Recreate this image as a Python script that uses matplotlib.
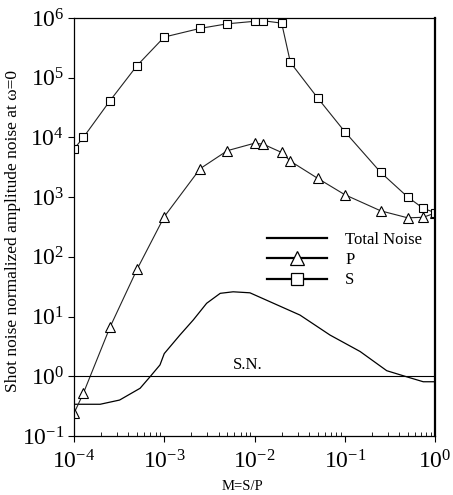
import matplotlib
matplotlib.use('Agg')
import matplotlib.pyplot as plt
from matplotlib.lines import Line2D
from matplotlib.ticker import LogLocator, FixedLocator, NullFormatter

plt.rcParams['font.family'] = ['Liberation Serif', 'DejaVu Serif']
plt.rcParams['mathtext.fontset'] = 'custom'
plt.rcParams['mathtext.rm'] = 'Liberation Serif'
plt.rcParams['mathtext.it'] = 'Liberation Serif:italic'

# S polarisation noise (squares)
m_s = [1e-4, 1.27e-4, 2.5e-4, 5e-4, 1e-3, 2.5e-3, 5e-3, 1e-2, 1.25e-2, 2e-2,
       2.5e-2, 5e-2, 0.1, 0.25, 0.5, 0.74, 1.0]
noise_s = [6.4e3, 1.0e4, 4.1e4, 1.6e5, 4.8e5, 6.7e5, 8.0e5, 8.8e5, 9.0e5, 8.2e5,
           1.8e5, 4.6e4, 1.25e4, 2.6e3, 1.0e3, 650, 550]

# P polarisation noise (triangles)
m_p = [1e-4, 1.27e-4, 2.5e-4, 5e-4, 1e-3, 2.5e-3, 5e-3, 1e-2, 1.25e-2, 2e-2,
       2.5e-2, 5e-2, 0.1, 0.25, 0.5, 0.74, 1.0]
noise_p = [0.24, 0.52, 6.6, 62, 470, 3.0e3, 6.0e3, 8.0e3, 7.7e3, 5.6e3,
           4.0e3, 2.07e3, 1.1e3, 590, 450, 460, 540]

# total noise curve
m_tot = [1e-4, 1.95e-4, 3.2e-4, 5.4e-4, 6.95e-4, 8.97e-4, 1e-3, 1.49e-3, 2.1e-3,
         2.95e-3, 4.17e-3, 5.8e-3, 8.9e-3, 3.19e-2, 6.87e-2, 0.148, 0.292,
         0.486, 0.741, 1.0]
noise_tot = [0.34, 0.34, 0.40, 0.63, 0.98, 1.55, 2.4, 4.9, 8.8, 16.7, 24.5,
             26, 25, 10.6, 4.9, 2.6, 1.24, 0.98, 0.81, 0.81]

shot_noise = 1.0

fig = plt.figure(figsize=(4.53, 4.95), dpi=100)
ax = fig.add_axes([74 / 453, 1 - 436 / 495, (435 - 74) / 453, (436 - 18) / 495])

ax.plot(m_tot, noise_tot, color='black', lw=0.9)
ax.plot(m_p, noise_p, color='#222222', lw=0.8, marker='^', ms=7.5,
        mfc='white', mec='black', mew=0.8)
ax.plot(m_s, noise_s, color='#222222', lw=0.8, marker='s', ms=6,
        mfc='white', mec='black', mew=0.8)
ax.axhline(shot_noise, color='black', lw=0.8)
ax.text(5.8e-3, 1.12, 'S.N.', fontsize=12, ha='left', va='bottom')

ax.set_xscale('log')
ax.set_yscale('log')
ax.set_xlim(1e-4, 1)
ax.set_ylim(0.1, 1e6)

xt = [1e-4, 1e-3, 1e-2, 1e-1, 1]
ax.xaxis.set_major_locator(FixedLocator(xt))
ax.set_xticklabels([r'$\mathregular{10^{%d}}$' % e for e in (-4, -3, -2, -1, 0)],
                   fontsize=17)
ax.xaxis.set_minor_locator(LogLocator(base=10, subs=range(2, 10)))
ax.xaxis.set_minor_formatter(NullFormatter())

yt = [10.0 ** e for e in range(-1, 7)]
ax.yaxis.set_major_locator(FixedLocator(yt))
ax.set_yticklabels([r'$\mathregular{10^{%d}}$' % e for e in range(-1, 7)],
                   fontsize=17)
ax.yaxis.set_minor_locator(FixedLocator([]))

ax.tick_params(axis='x', which='major', direction='out', length=4, width=0.8, pad=6)
ax.tick_params(axis='x', which='minor', direction='in', length=3, width=0.6)
ax.tick_params(axis='y', which='major', direction='out', length=4, width=0.8, pad=3)

for side in ['top', 'left', 'bottom']:
    ax.spines[side].set_linewidth(0.9)
ax.spines['right'].set_linewidth(1.6)

ax.set_xlabel('M=S/P', fontsize=10.5)
ax.xaxis.set_label_coords(0.468, -0.106)
ax.set_ylabel('Shot noise normalized amplitude noise at ω=0', fontsize=12.5)
ax.yaxis.set_label_coords(-0.147, 0.49)

handles = [
    Line2D([], [], color='black', lw=1.6),
    Line2D([], [], color='black', lw=1.6, marker='^', ms=10, mfc='white',
           mec='black', mew=0.9),
    Line2D([], [], color='black', lw=1.6, marker='s', ms=9, mfc='white',
           mec='black', mew=0.9),
]
fig.legend(handles, ['Total Noise', 'P', 'S'], loc='upper left',
           bbox_to_anchor=(267 / 453, 1 - 232 / 495), frameon=False,
           fontsize=12, handlelength=3.6, handletextpad=1.1,
           labelspacing=0.25, borderpad=0, borderaxespad=0)

fig.savefig('out.png', dpi=100)
